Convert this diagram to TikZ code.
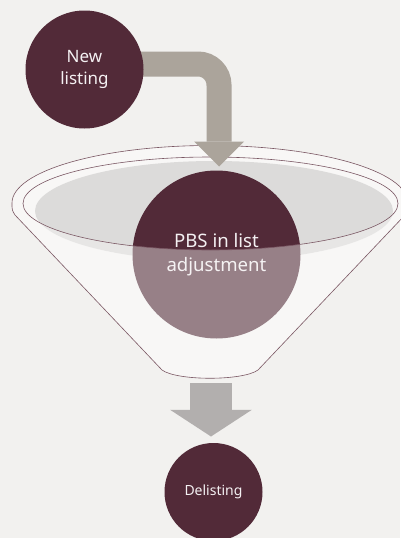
\documentclass[tikz,border=0pt]{standalone}
\usepackage{fontspec}
\setmainfont{Noto Sans}
\usetikzlibrary{arrows.meta}
\pgfdeclarelayer{top}
\pgfsetlayers{main,top}
\definecolor{bgc}{HTML}{F2F1EF}
\definecolor{funnelc}{HTML}{F8F7F6}
\definecolor{grayc}{HTML}{DCDBDA}
\definecolor{maroon}{HTML}{522A38}
\definecolor{outc}{HTML}{7A5763}
\definecolor{arrAc}{HTML}{ABA49B}
\definecolor{arrBc}{HTML}{B2AFAE}
\definecolor{txtc}{HTML}{F4F0F2}
\begin{document}
\begin{tikzpicture}[x=1pt,y=-1pt,
  bubble/.style={circle, fill=maroon, text=txtc, align=center, inner sep=0pt},
  outl/.style={draw=outc, line width=0.6pt},
  arrowA/.style={draw=arrAc, line width=25pt, rounded corners=21pt,
    -{Triangle[width=50pt,length=25pt,line width=0pt]}},
  arrowB/.style={draw=arrBc, line width=41.7pt,
    -{Triangle[width=81.7pt,length=26.7pt,line width=0pt]}}]
\fill[bgc] (0,0) rectangle (400,538);
\useasboundingbox (0,0) rectangle (400,538);
% funnel back
\fill[funnelc] (12,203) arc[start angle=180,end angle=360,x radius=198,y radius=57.5]
  .. controls (408,210) .. (405,215) -- (258,370)
  .. controls (243,381) and (177,381) .. (162,370) -- (15,215)
  .. controls (12,210) .. cycle;
% liquid
\fill[grayc] (214,211) ellipse[x radius=179,y radius=50];
% central circle
\node[bubble, minimum size=168pt, font=\fontsize{18.6}{24}\selectfont] (pbs) at (216.5,254.5) {PBS in list\\adjustment};
% funnel front (semi-transparent)
\fill[funnelc, fill opacity=0.42] (23,203.5) arc[start angle=180,end angle=0,x radius=187.5,y radius=46.5]
  -- (408,203) .. controls (408,210) .. (405,215) -- (258,370)
  .. controls (243,381) and (177,381) .. (162,370) -- (15,215)
  .. controls (12,210) .. (12,203) -- cycle;
% outlines
\draw[outl] (12,203) arc[start angle=180,end angle=360,x radius=198,y radius=57.5]
  .. controls (408,210) .. (405,215) -- (258,370)
  .. controls (243,381) and (177,381) .. (162,370) -- (15,215)
  .. controls (12,210) .. cycle;
\draw[outl] (210.5,203.5) ellipse[x radius=187.5,y radius=46.5];
% top node
\begin{pgfonlayer}{top}
\node[bubble, minimum size=118pt, font=\fontsize{17}{22.4}\selectfont] (newlist) at (84.5,69.5) {New\\listing};
\end{pgfonlayer}
\draw[arrowA] ([xshift=-4pt,yshift=5.5pt]newlist.east) -| ([xshift=2.5pt,yshift=3.8pt]pbs.north);
% bottom
\node[bubble, minimum size=98pt, font=\fontsize{14}{17}\selectfont] (delist) at (213.5,492) {Delisting};
\coordinate (fbot) at (211,383.3);
\coordinate (tipd) at ([yshift=6.3pt]delist.north);
\draw[arrowB] (fbot) -- (fbot |- tipd);
\end{tikzpicture}
\end{document}
